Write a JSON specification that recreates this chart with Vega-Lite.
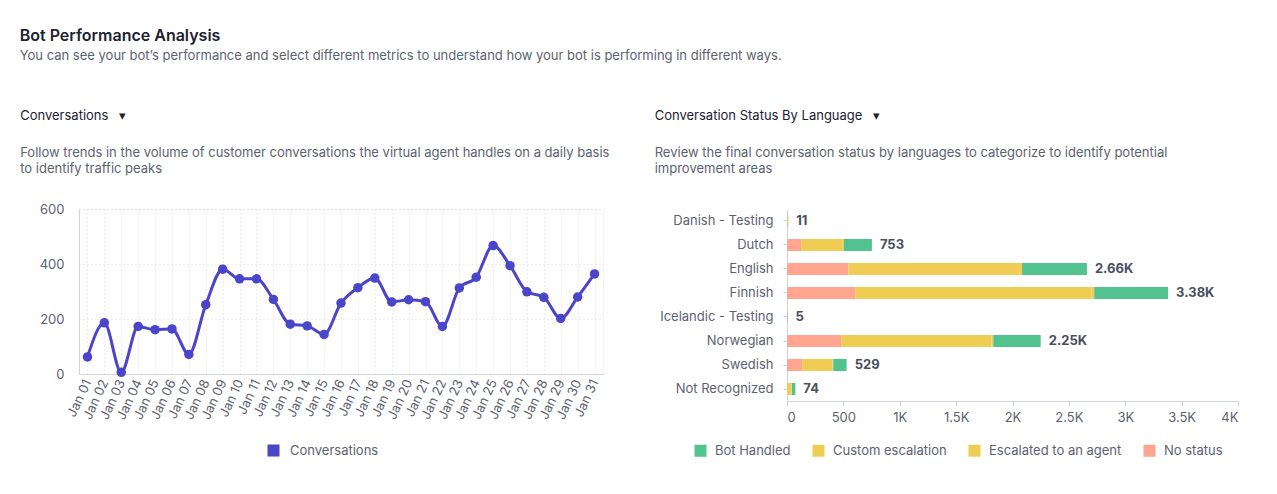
{
  "$schema": "https://vega.github.io/schema/vega-lite/v6.json",
  "background": "white",
  "padding": {"left": 19, "top": 27, "right": 0, "bottom": 0},
  "title": {
    "text": "Bot Performance Analysis",
    "subtitle": "You can see your bot’s performance and select different metrics to understand how your bot is performing in different ways.",
    "anchor": "start",
    "font": "Inter",
    "subtitleFont": "Inter",
    "fontSize": 16,
    "fontWeight": 600,
    "color": "#1d2130",
    "subtitleFontSize": 13,
    "subtitleColor": "#5c6270",
    "subtitlePadding": 6,
    "offset": 47
  },
  "config": {
    "font": "Inter",
    "axis": {
      "labelFont": "Inter",
      "labelColor": "#5c6270",
      "labelFontSize": 13,
      "domainColor": "#cfd2d8",
      "tickColor": "#cfd2d8",
      "gridColor": "#d6d8dd",
      "title": null
    },
    "legend": {
      "labelFont": "Inter",
      "labelFontSize": 13,
      "labelColor": "#5c6270",
      "symbolType": "square",
      "symbolSize": 144,
      "symbolStrokeWidth": 0,
      "symbolOpacity": 1,
      "title": null
    }
  },
  "resolve": {"scale": {"color": "independent"}, "legend": {"color": "independent"}},
  "bounds": "flush",
  "spacing": 184,
  "hconcat": [
    {
      "width": 524,
      "height": 165,
      "view": {"stroke": "#d6d8dd", "strokeDash": [1, 3]},
      "title": {
        "text": "\u00a0Conversations\u00a0\u00a0\u00a0▾",
        "subtitle": [
          "Follow trends in the volume of customer conversations the virtual agent handles on a daily basis",
          "to identify traffic peaks"
        ],
        "anchor": "start",
        "dx": -19,
        "fontSize": 13,
        "fontWeight": 400,
        "color": "#1d2130",
        "subtitleFontSize": 13,
        "subtitleColor": "#5c6270",
        "subtitlePadding": 24,
        "subtitleLineHeight": 16,
        "offset": 27
      },
      "data": {
        "values": [
          {"day": "Jan 01", "conversations": 62},
          {"day": "Jan 02", "conversations": 186},
          {"day": "Jan 03", "conversations": 6},
          {"day": "Jan 04", "conversations": 173},
          {"day": "Jan 05", "conversations": 161},
          {"day": "Jan 06", "conversations": 164},
          {"day": "Jan 07", "conversations": 71},
          {"day": "Jan 08", "conversations": 252},
          {"day": "Jan 09", "conversations": 381},
          {"day": "Jan 10", "conversations": 346},
          {"day": "Jan 11", "conversations": 346},
          {"day": "Jan 12", "conversations": 271},
          {"day": "Jan 13", "conversations": 181},
          {"day": "Jan 14", "conversations": 175},
          {"day": "Jan 15", "conversations": 144},
          {"day": "Jan 16", "conversations": 258},
          {"day": "Jan 17", "conversations": 314},
          {"day": "Jan 18", "conversations": 349},
          {"day": "Jan 19", "conversations": 262},
          {"day": "Jan 20", "conversations": 270},
          {"day": "Jan 21", "conversations": 263},
          {"day": "Jan 22", "conversations": 173},
          {"day": "Jan 23", "conversations": 313},
          {"day": "Jan 24", "conversations": 352},
          {"day": "Jan 25", "conversations": 467},
          {"day": "Jan 26", "conversations": 394},
          {"day": "Jan 27", "conversations": 299},
          {"day": "Jan 28", "conversations": 279},
          {"day": "Jan 29", "conversations": 202},
          {"day": "Jan 30", "conversations": 280},
          {"day": "Jan 31", "conversations": 364}
        ]
      },
      "mark": {
        "type": "line",
        "interpolate": "monotone",
        "strokeWidth": 3,
        "point": {"filled": true, "size": 90}
      },
      "encoding": {
        "x": {
          "field": "day",
          "type": "ordinal",
          "sort": null,
          "scale": {"type": "point", "padding": 0.5},
          "axis": {
            "labelAngle": -65,
            "labelAlign": "right",
            "labelBaseline": "middle",
            "labelPadding": 6,
            "labelFontSize": 13,
            "ticks": false,
            "grid": true,
            "gridDash": [1, 3]
          }
        },
        "y": {
          "field": "conversations",
          "type": "quantitative",
          "scale": {"domain": [0, 600]},
          "axis": {
            "values": [0, 200, 400, 600],
            "ticks": false,
            "labelPadding": 15,
            "grid": true,
            "gridDash": [1, 3]
          }
        },
        "color": {
          "datum": "Conversations",
          "scale": {"range": ["#4b45c9"]},
          "legend": {"orient": "none", "legendX": 188, "legendY": 235, "direction": "horizontal", "labelOffset": 10}
        }
      }
    },
    {
      "width": 451,
      "height": 192,
      "view": {"stroke": null},
      "title": {
        "text": "\u00a0\u00a0Conversation Status By Language\u00a0\u00a0\u00a0▾",
        "subtitle": [
          "Review the final conversation status by languages to categorize to identify potential",
          "improvement areas"
        ],
        "anchor": "start",
        "dx": -5,
        "fontSize": 13,
        "fontWeight": 400,
        "color": "#1d2130",
        "subtitleFontSize": 13,
        "subtitleColor": "#5c6270",
        "subtitlePadding": 24,
        "subtitleLineHeight": 16,
        "offset": 33
      },
      "layer": [
        {
          "data": {
            "values": [
              {"language": "Danish - Testing", "status": "No status", "count": 4},
              {"language": "Danish - Testing", "status": "Escalated to an agent", "count": 5},
              {"language": "Danish - Testing", "status": "Bot Handled", "count": 2},
              {"language": "Dutch", "status": "No status", "count": 125},
              {"language": "Dutch", "status": "Custom escalation", "count": 10},
              {"language": "Dutch", "status": "Escalated to an agent", "count": 370},
              {"language": "Dutch", "status": "Bot Handled", "count": 248},
              {"language": "English", "status": "No status", "count": 545},
              {"language": "English", "status": "Custom escalation", "count": 20},
              {"language": "English", "status": "Escalated to an agent", "count": 1520},
              {"language": "English", "status": "Bot Handled", "count": 575},
              {"language": "Finnish", "status": "No status", "count": 605},
              {"language": "Finnish", "status": "Custom escalation", "count": 25},
              {"language": "Finnish", "status": "Escalated to an agent", "count": 2095},
              {"language": "Finnish", "status": "Bot Handled", "count": 655},
              {"language": "Icelandic - Testing", "status": "No status", "count": 3},
              {"language": "Icelandic - Testing", "status": "Bot Handled", "count": 2},
              {"language": "Norwegian", "status": "No status", "count": 480},
              {"language": "Norwegian", "status": "Custom escalation", "count": 15},
              {"language": "Norwegian", "status": "Escalated to an agent", "count": 1335},
              {"language": "Norwegian", "status": "Bot Handled", "count": 420},
              {"language": "Swedish", "status": "No status", "count": 135},
              {"language": "Swedish", "status": "Custom escalation", "count": 5},
              {"language": "Swedish", "status": "Escalated to an agent", "count": 270},
              {"language": "Swedish", "status": "Bot Handled", "count": 119},
              {"language": "Not Recognized", "status": "No status", "count": 2},
              {"language": "Not Recognized", "status": "Custom escalation", "count": 4},
              {"language": "Not Recognized", "status": "Escalated to an agent", "count": 38},
              {"language": "Not Recognized", "status": "Bot Handled", "count": 30}
            ]
          },
          "mark": {"type": "bar", "size": 12},
          "encoding": {
            "y": {
              "field": "language",
              "type": "nominal",
              "sort": ["Danish - Testing", "Dutch", "English", "Finnish", "Icelandic - Testing", "Norwegian", "Swedish", "Not Recognized"],
              "axis": {"ticks": true, "tickSize": 4, "labelPadding": 10}
            },
            "x": {
              "field": "count",
              "type": "quantitative",
              "stack": "zero",
              "scale": {"domain": [0, 4000]},
              "axis": {
                "values": [0, 500, 1000, 1500, 2000, 2500, 3000, 3500, 4000],
                "labelExpr": "datum.value < 1000 ? format(datum.value, 'd') : format(datum.value / 1000, '~g') + 'K'",
                "ticks": true,
                "tickSize": 5,
                "labelPadding": 5,
                "grid": false
              }
            },
            "color": {
              "field": "status",
              "type": "nominal",
              "scale": {
                "domain": ["Bot Handled", "Custom escalation", "Escalated to an agent", "No status"],
                "range": ["#52c38f", "#efcd55", "#efcd55", "#ffa590"]
              },
              "legend": {"orient": "none", "legendX": -93, "legendY": 235, "direction": "horizontal", "labelOffset": 8, "columnPadding": 21}
            },
            "order": {"field": "status", "sort": "descending"}
          }
        },
        {
          "data": {
            "values": [
              {"language": "Danish - Testing", "total": 11, "label": "11"},
              {"language": "Dutch", "total": 753, "label": "753"},
              {"language": "English", "total": 2660, "label": "2.66K"},
              {"language": "Finnish", "total": 3380, "label": "3.38K"},
              {"language": "Icelandic - Testing", "total": 5, "label": "5"},
              {"language": "Norwegian", "total": 2250, "label": "2.25K"},
              {"language": "Swedish", "total": 529, "label": "529"},
              {"language": "Not Recognized", "total": 74, "label": "74"}
            ]
          },
          "mark": {"type": "text", "align": "left", "baseline": "middle", "dx": 8, "fontSize": 13, "fontWeight": "bold", "color": "#4a4f5e"},
          "encoding": {
            "y": {"field": "language", "type": "nominal", "sort": ["Danish - Testing", "Dutch", "English", "Finnish", "Icelandic - Testing", "Norwegian", "Swedish", "Not Recognized"]},
            "x": {"field": "total", "type": "quantitative"},
            "text": {"field": "label"}
          }
        }
      ]
    }
  ]
}
